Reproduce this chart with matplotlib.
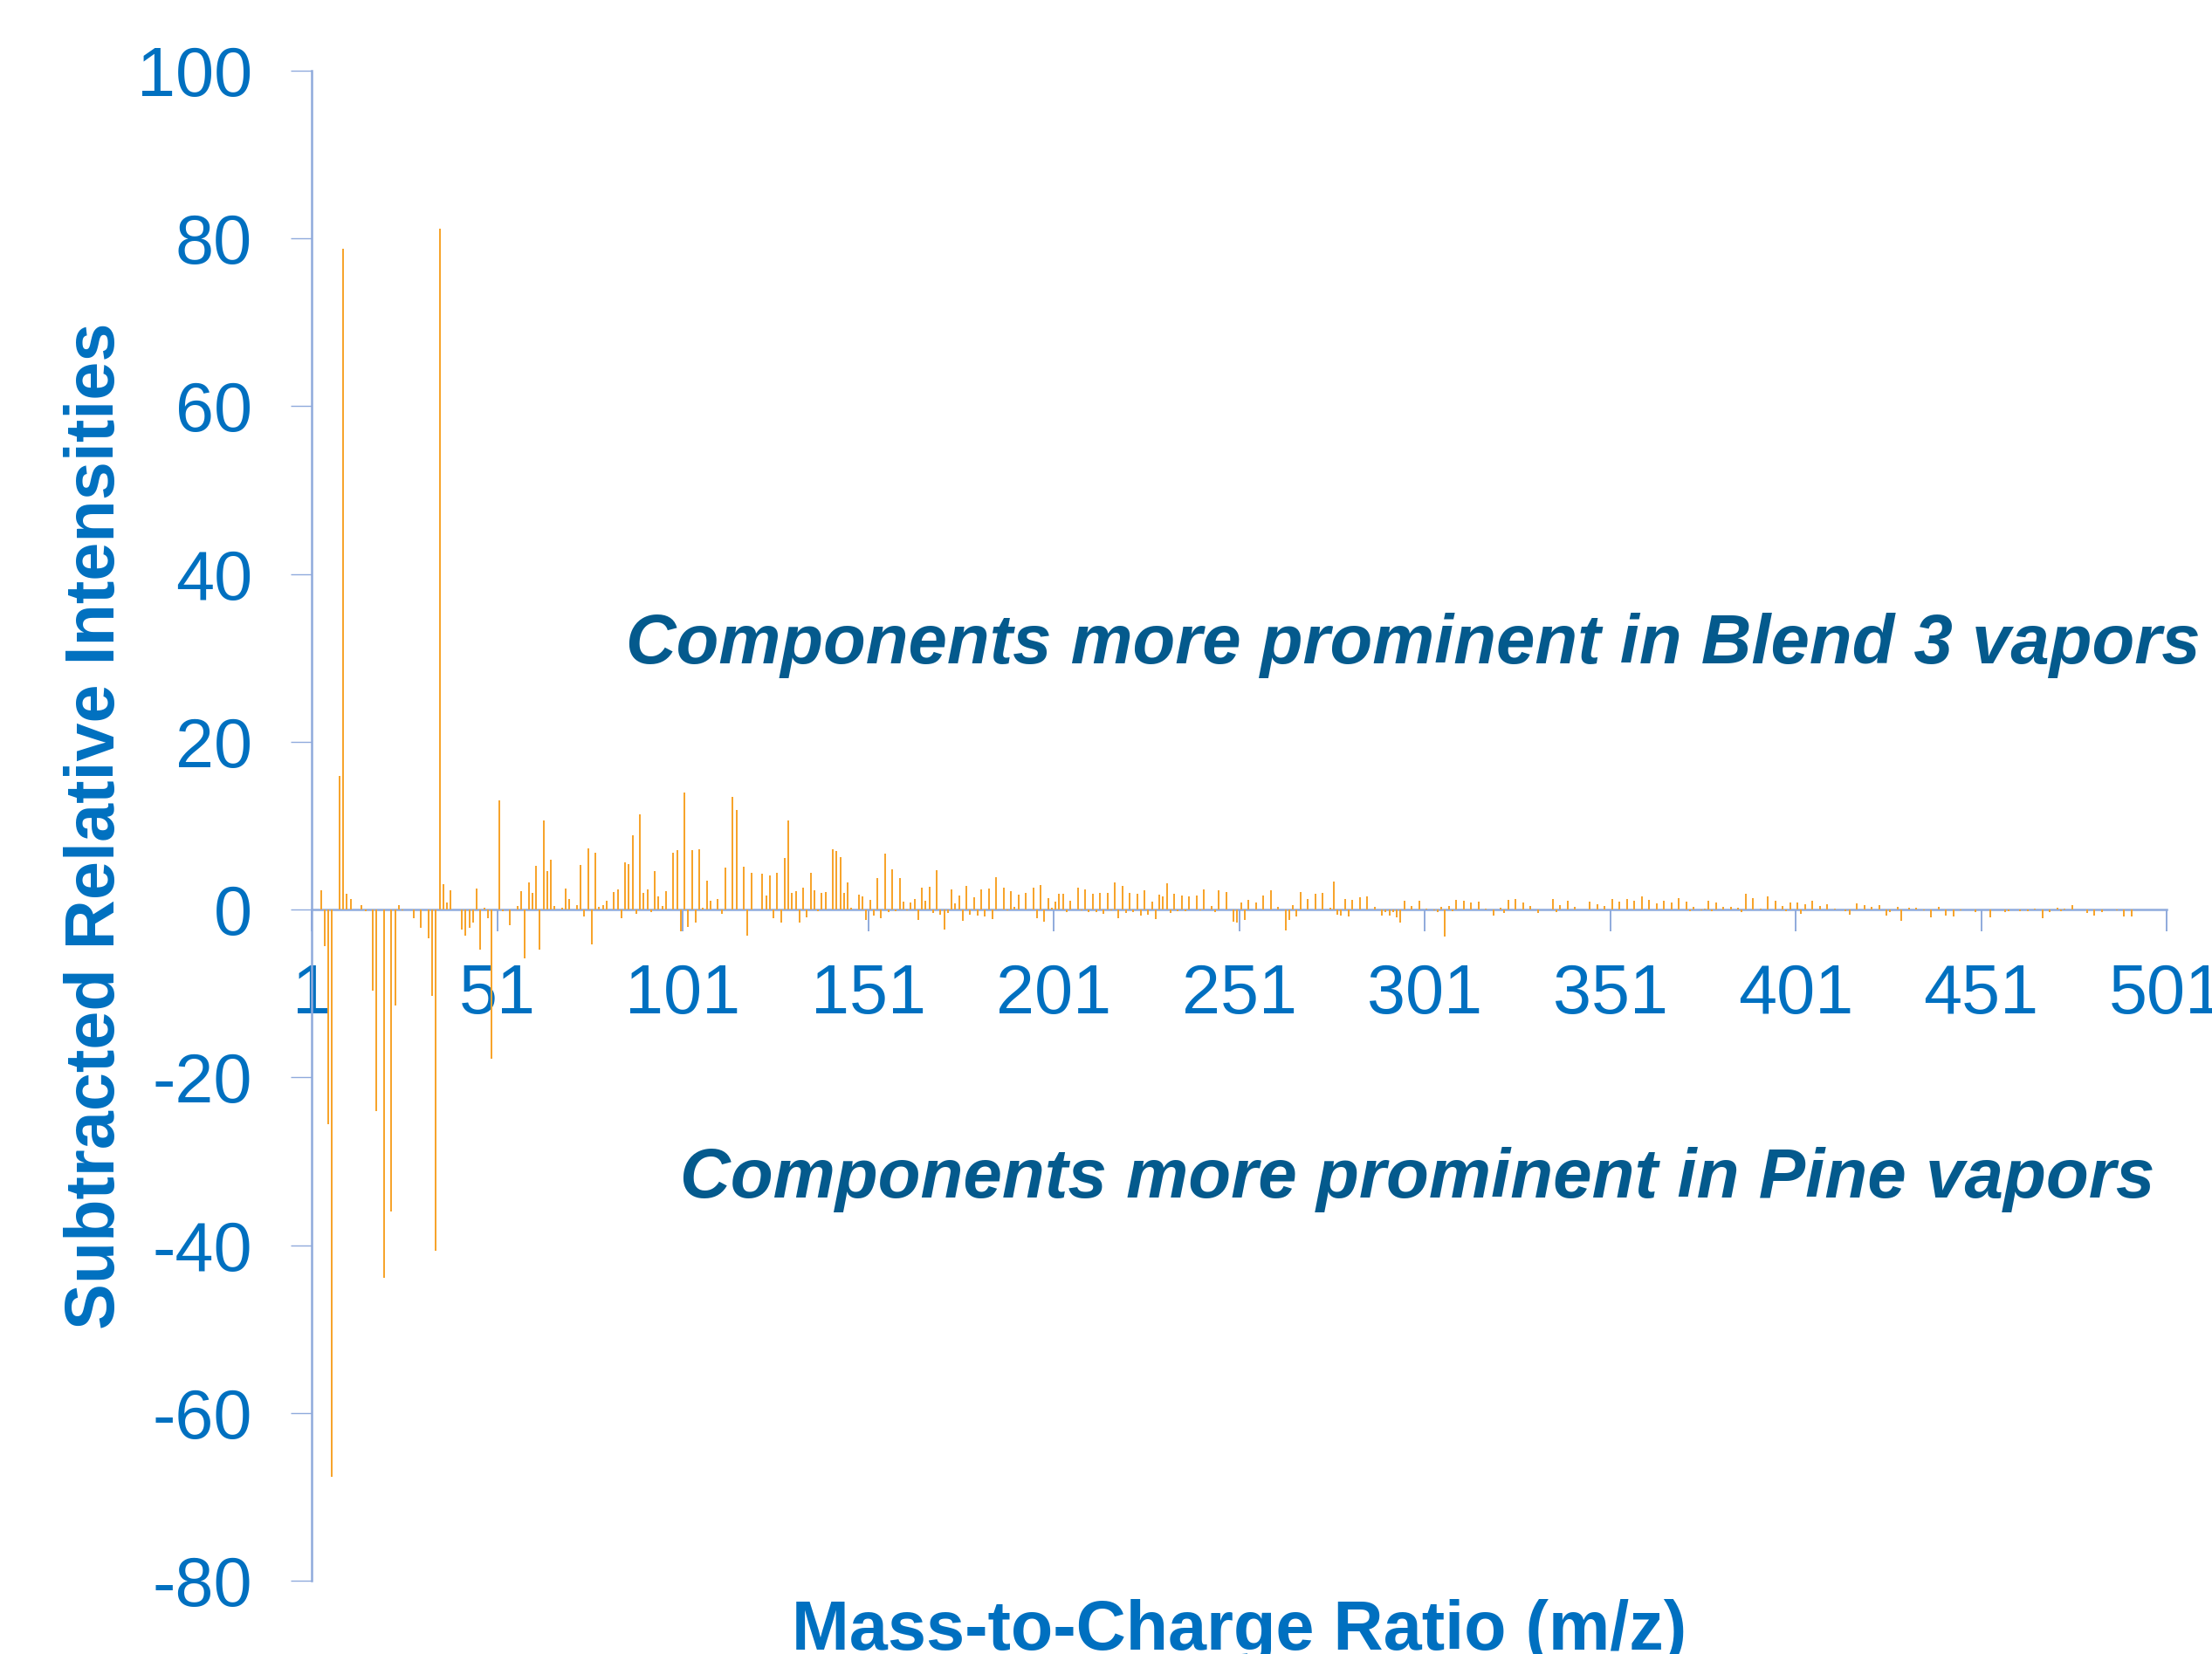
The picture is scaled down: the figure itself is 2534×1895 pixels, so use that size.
import matplotlib
matplotlib.use('Agg')
import matplotlib.pyplot as plt

# subtracted spectrum (Blend 3 minus Pine), only the non-zero categories
mz = [3, 4, 5, 6, 8, 9, 10, 11, 14, 15,
      17, 18, 20, 22, 23, 24, 25, 28, 30, 32,
      33, 34, 35, 36, 37, 38, 41, 42, 43, 44,
      45, 46, 47, 48, 49, 51, 52, 54, 56, 57,
      58, 59, 60, 61, 62, 63, 64, 65, 66, 68,
      69, 70, 72, 73, 74, 75, 76, 77, 78, 79,
      80, 82, 83, 84, 85, 86, 87, 88, 89, 90,
      91, 92, 93, 94, 95, 96, 98, 99, 100, 101,
      102, 103, 104, 105, 106, 107, 108, 110, 111, 112,
      114, 115, 117, 118, 119, 120, 122, 123, 124, 125,
      126, 127, 128, 129, 130, 131, 132, 133, 134, 135,
      136, 137, 138, 139, 141, 142, 143, 144, 145, 146,
      148, 149, 150, 151, 152, 153, 154, 155, 156, 157,
      158, 159, 160, 161, 162, 163, 164, 165, 166, 167,
      168, 169, 170, 171, 172, 173, 174, 175, 176, 177,
      178, 179, 180, 181, 182, 183, 184, 185, 187, 188,
      189, 190, 191, 193, 195, 196, 197, 198, 199, 200,
      201, 202, 203, 204, 205, 207, 208, 209, 210, 211,
      212, 213, 214, 215, 216, 217, 218, 219, 220, 221,
      222, 223, 224, 225, 226, 227, 228, 229, 230, 231,
      232, 233, 234, 235, 236, 237, 239, 240, 241, 243,
      244, 245, 247, 249, 250, 251, 252, 253, 255, 257,
      259, 261, 263, 264, 265, 266, 267, 269, 271, 273,
      275, 276, 277, 278, 279, 280, 281, 283, 285, 287,
      289, 290, 291, 292, 293, 294, 295, 297, 299, 301,
      303, 304, 305, 306, 307, 308, 309, 311, 313, 315,
      317, 319, 321, 322, 323, 325, 327, 329, 331, 335,
      336, 337, 339, 341, 343, 345, 347, 349, 351, 353,
      355, 357, 359, 361, 363, 365, 367, 369, 371, 372,
      373, 375, 376, 377, 378, 379, 381, 383, 385, 386,
      387, 389, 391, 393, 395, 397, 398, 399, 401, 402,
      403, 405, 407, 409, 411, 414, 415, 417, 419, 421,
      423, 425, 426, 428, 429, 431, 433, 435, 437, 439,
      441, 443, 445, 449, 453, 455, 457, 458, 461, 463,
      465, 467, 469, 471, 472, 473, 475, 479, 481, 483,
      487, 489, 491]

diff = [2.3, -4.35, -25.6, -67.6, 15.9, 78.8, 1.84, 1.28, 0.48, -0.17,
        -9.65, -24.0, -43.9, -36.0, -11.4, 0.55, -0.05, -1.08, -2.2, -3.45,
        -10.3, -40.7, 81.2, 3.0, 0.87, 2.29, -2.36, -3.1, -2.15, -1.5,
        2.53, -4.75, 0.2, -1.07, -17.8, 13.06, -0.17, -1.84, 0.45, 2.2,
        -5.8, 3.19, 1.94, 5.2, -4.75, 10.6, 4.57, 5.9, 0.38, 0.24,
        2.53, 1.25, 0.55, 5.3, -0.87, 7.3, -4.1, 6.76, 0.31, 0.52,
        1.04, 2.04, 2.36, -1.0, 5.65, 5.44, 8.84, -0.52, 11.4, 1.97,
        2.43, -0.31, 4.64, 1.6, 0.42, 2.15, 6.8, 7.1, -2.63, 14.0,
        -2.08, 7.1, -1.52, 7.2, 0.17, 3.43, 1.1, 1.25, -0.52, 5.0,
        13.4, 11.9, 5.06, -3.08, 4.37, 0.05, 4.26, 1.66, 4.05, -1.07,
        4.4, -1.5, 6.13, 10.6, 1.97, 2.18, -1.5, 2.56, -0.97, 4.33,
        2.29, -0.24, 1.97, 2.08, 7.17, 7.0, 6.3, 2.0, 3.19, 0.2,
        1.77, 1.6, -1.2, 1.18, -0.73, 3.74, -1.04, 6.72, -0.28, 4.82,
        -0.17, 3.74, 0.94, -0.1, 0.8, 1.28, -1.25, 2.6, 1.07, 2.74,
        -0.38, 4.68, -0.59, -2.36, -0.38, 2.36, 0.73, 1.7, -1.32, 2.8,
        -0.62, 1.46, -0.73, 2.43, -0.8, 2.53, -1.18, 3.81, 2.56, -0.1,
        2.15, 0.28, 1.8, 1.94, 2.6, -1.0, 2.91, -1.42, 1.32, 0.2,
        0.9, 1.84, 1.84, -0.28, 1.04, 2.56, -0.14, 2.36, -0.28, 1.84,
        -0.35, 1.97, -0.49, 1.94, -0.1, 3.19, -1.0, 2.77, -0.45, 1.94,
        -0.28, 1.87, -0.76, 2.25, -0.59, 0.97, -1.1, 1.73, 1.52, 3.12,
        -0.38, 1.84, -0.2, 1.66, -0.24, 1.6, 1.66, -0.14, 2.43, 0.45,
        -0.26, 2.3, 2.06, -1.42, -1.54, 0.85, -1.2, 1.14, 0.82, 1.72,
        2.34, 0.3, -2.45, -1.28, 0.57, -0.78, 2.04, 1.26, 1.88, 1.94,
        0.2, 3.36, -0.57, -0.68, 1.3, -0.85, 1.16, 1.49, 1.6, 0.31,
        -0.76, -0.28, -0.69, -0.28, -0.9, -1.52, 1.07, 0.42, 1.04, 0.14,
        -0.14, -0.28, 0.28, -3.26, 0.38, -0.24, 1.14, 1.04, 0.8, 0.9,
        0.07, -0.73, 0.17, -0.38, 1.14, 1.28, 0.87, 0.45, -0.38, 1.21,
        -0.31, 0.55, 1.1, 0.35, 0.05, 0.9, 0.66, 0.38, 1.28, 0.9,
        1.25, 1.04, 1.52, 1.14, 0.76, 1.04, 0.87, 1.39, 0.9, -0.17,
        0.28, -0.14, 0.1, 1.0, -0.24, 0.83, 0.35, 0.35, 0.17, -0.35,
        1.84, 1.32, 0.1, 1.56, 1.0, 0.42, -0.17, 0.83, 0.83, -0.52,
        0.66, 1.1, 0.38, 0.62, 0.14, -0.24, -0.62, 0.73, 0.49, 0.28,
        0.55, -0.69, -0.28, 0.28, -1.32, 0.17, 0.17, -0.14, -0.94, 0.28,
        -0.69, -0.8, -0.05, -0.28, -0.9, 0.05, -0.35, -0.17, -0.17, -0.17,
        0.14, -1.07, -0.28, 0.17, -0.24, 0.07, 0.52, -0.38, -0.69, -0.28,
        -0.14, -0.8, -0.8]

xtick_labels = ['1', '51', '101', '151', '201', '251', '301', '351', '401', '451', '501']
yticks = [-80, -60, -40, -20, 0, 20, 40, 60, 80, 100]

upper_note = 'Components more prominent in Blend 3 vapors'
lower_note = 'Components more prominent in Pine vapors'

assert len(mz) == len(diff)

plt.rcParams['font.family'] = ['Liberation Sans', 'DejaVu Sans']
plt.rcParams['axes.unicode_minus'] = False

blue = '#0070C0'
dark_blue = '#045A8D'
axis_col = '#8FAADC'
orange = '#F7A42C'

fig = plt.figure(figsize=(25.34, 18.95), dpi=100)
ax = fig.add_axes([0.1409, 0.0443, 0.8386, 0.9130])

ax.bar(mz, diff, width=0.5, color=orange, linewidth=0, zorder=3)

ax.set_xlim(0.5, 500.5)
ax.set_ylim(-80, 100)

# category boundaries carry the tick marks, as in the spreadsheet chart
ax.set_xticks([0.5 + 50 * i for i in range(len(xtick_labels))])
ax.set_xticklabels(xtick_labels)
ax.set_yticks(yticks)
ax.set_yticklabels([str(v) for v in yticks])

for s in ['top', 'right']:
    ax.spines[s].set_visible(False)
ax.spines['bottom'].set_position(('data', 0))
for s in ['left', 'bottom']:
    ax.spines[s].set_color(axis_col)
    ax.spines[s].set_linewidth(1.8)

ax.tick_params(axis='y', direction='out', length=17, width=1.0, color=axis_col,
               labelsize=57, labelcolor=blue, pad=32)
ax.tick_params(axis='x', direction='out', length=18, width=1.4, color=axis_col,
               labelsize=57, labelcolor=blue, pad=26)

ax.set_ylabel('Subtracted Relative Intensities', fontsize=57, fontweight='bold', color=blue)
ax.yaxis.set_label_coords(-0.0985, 0.5)
ax.set_xlabel('Mass-to-Charge Ratio (m/z)', fontsize=57, fontweight='bold', color=blue,
              va='baseline')
ax.xaxis.set_label_coords(0.5, -0.0455)

ax.text(0.594, 0.6075, upper_note, transform=ax.transAxes, ha='center', va='baseline',
        fontsize=57.4, fontweight='bold', fontstyle='italic', color=dark_blue)
ax.text(0.596, 0.2538, lower_note, transform=ax.transAxes, ha='center', va='baseline',
        fontsize=57.6, fontweight='bold', fontstyle='italic', color=dark_blue)

fig.savefig('out.png', dpi=100)
